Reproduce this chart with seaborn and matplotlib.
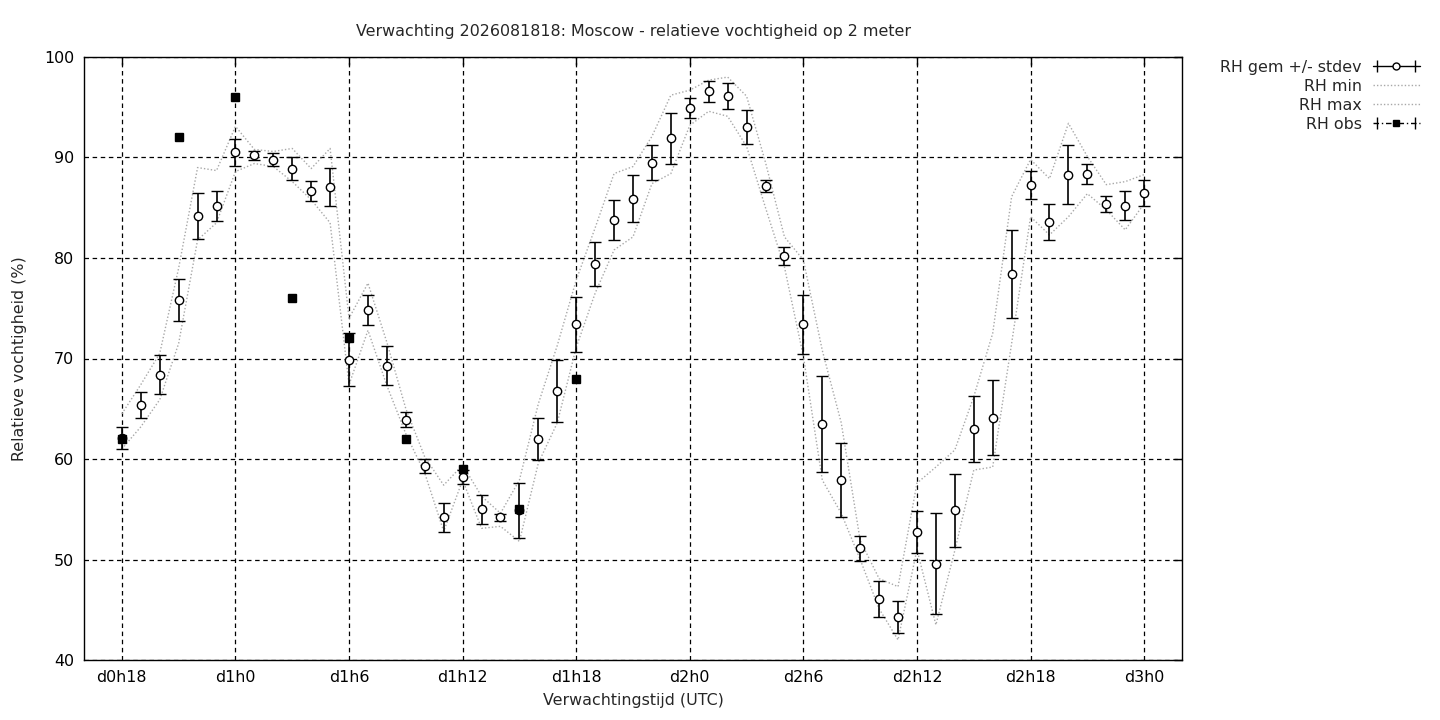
import matplotlib
matplotlib.use("Agg")
import matplotlib.pyplot as plt
from matplotlib.lines import Line2D
from matplotlib.legend_handler import HandlerLine2D, HandlerTuple
import seaborn as sns
import pandas as pd

# forecast hours since d0h0
hours = list(range(18, 73))

rh_mean = [62.1, 65.4, 68.4, 75.8, 84.2, 85.2, 90.5, 90.2, 89.8, 88.9,
           86.7, 87.1, 69.9, 74.8, 69.3, 63.9, 59.3, 54.2, 58.2, 55.0,
           54.2, 54.9, 62.0, 66.8, 73.4, 79.4, 83.8, 85.9, 89.5, 91.9,
           94.9, 96.6, 96.1, 93.0, 87.2, 80.2, 73.4, 63.5, 57.9, 51.1,
           46.1, 44.3, 52.7, 49.6, 54.9, 63.0, 64.1, 78.4, 87.3, 83.6,
           88.3, 88.4, 85.4, 85.2, 86.5]
rh_std = [1.1, 1.3, 1.9, 2.1, 2.3, 1.5, 1.35, 0.4, 0.6, 1.15,
          1.0, 1.9, 2.65, 1.5, 1.9, 0.75, 0.7, 1.45, 0.7, 1.45,
          0.35, 2.75, 2.05, 3.1, 2.75, 2.2, 2.0, 2.35, 1.75, 2.55,
          1.0, 1.05, 1.3, 1.7, 0.6, 0.85, 2.95, 4.75, 3.65, 1.2,
          1.8, 1.6, 2.1, 5.0, 3.65, 3.25, 3.75, 4.4, 1.4, 1.8,
          2.95, 1.0, 0.8, 1.45, 1.3]
rh_min = [61.0, 63.2, 65.9, 71.5, 81.8, 83.5, 88.6, 89.4, 89.1, 87.6,
          85.8, 83.5, 67.4, 72.8, 67.3, 62.5, 58.6, 52.8, 57.9, 53.1,
          53.3, 51.8, 59.6, 63.6, 71.1, 76.5, 80.8, 82.1, 87.4, 88.4,
          93.2, 94.6, 94.1, 91.1, 85.0, 79.1, 70.2, 57.9, 54.6, 50.0,
          45.1, 42.0, 51.0, 43.5, 50.9, 58.9, 59.2, 71.5, 84.1, 82.3,
          84.1, 86.4, 84.8, 82.8, 85.4]
rh_max = [64.5, 67.4, 70.5, 79.0, 89.0, 88.7, 93.1, 90.8, 90.6, 90.9,
          88.9, 90.9, 74.0, 77.5, 71.6, 65.0, 60.2, 57.4, 59.4, 56.3,
          54.6, 57.9, 65.5, 71.3, 77.8, 83.0, 88.4, 89.1, 92.1, 96.2,
          96.7, 97.7, 98.0, 96.1, 89.5, 82.1, 79.8, 70.8, 63.6, 51.9,
          48.1, 47.3, 57.6, 59.2, 60.9, 66.2, 72.5, 86.1, 89.8, 87.9,
          93.4, 90.1, 87.3, 87.6, 88.3]

obs_hours = [18, 21, 24, 27, 30, 33, 36, 39, 42]
rh_obs = [62, 92, 96, 76, 72, 62, 59, 55, 68]

tick_hours = [18, 24, 30, 36, 42, 48, 54, 60, 66, 72]
tick_labels = ["d0h18", "d1h0", "d1h6", "d1h12", "d1h18",
               "d2h0", "d2h6", "d2h12", "d2h18", "d3h0"]

df = pd.DataFrame({"uur": hours, "gem": rh_mean, "std": rh_std,
                   "min": rh_min, "max": rh_max})

sns.set_style("white")
plt.rcParams["font.family"] = ["DejaVu Sans"]
fs = 11.4

fig = plt.figure(figsize=(14.4, 7.2), dpi=100)
ax = fig.add_axes([84 / 1440, 60 / 720, 1098 / 1440, 603 / 720])

grey = "#a8a8a8"
sns.lineplot(data=df, x="uur", y="min", ax=ax, color=grey, lw=1,
             linestyle=(0, (1, 1.5)), zorder=2)
sns.lineplot(data=df, x="uur", y="max", ax=ax, color=grey, lw=1,
             linestyle=(0, (1, 1.5)), zorder=2)

ax.errorbar(df["uur"], df["gem"], yerr=df["std"], fmt="o", color="black",
            mfc="white", mec="black", ms=6, mew=1, elinewidth=1.2,
            capsize=4.5, capthick=1.2, zorder=4)
ax.errorbar(obs_hours, rh_obs, yerr=[0] * len(rh_obs), fmt="s", color="black",
            ms=6, capsize=3, capthick=1, zorder=5)

ax.set_xlim(16, 74)
ax.set_ylim(40, 100)
ax.set_xticks(tick_hours)
ax.set_xticklabels(tick_labels)
ax.set_yticks(range(40, 101, 10))
ax.tick_params(direction="in", length=6, width=1, top=True, right=True,
               labelsize=fs, colors="black", pad=7)
ax.grid(True, color="black", lw=0.9, linestyle=(0, (3.6, 2.9)))
for s in ax.spines.values():
    s.set_color("black")
    s.set_linewidth(1)

ax.set_xlabel("Verwachtingstijd (UTC)", fontsize=fs, labelpad=6)
ax.set_ylabel("Relatieve vochtigheid (%)", fontsize=fs, labelpad=12)
ax.set_title("Verwachting 2026081818: Moscow - relatieve vochtigheid op 2 meter",
             fontsize=fs, pad=15)

# gnuplot style legend samples
mean_line = Line2D([], [], color="black", lw=1, marker="o", mfc="white",
                   mec="black", ms=5)
mean_caps = Line2D([], [], color="black", lw=0, marker="|", ms=9, mew=1)
min_line = Line2D([], [], color=grey, lw=1, linestyle=(0, (1, 1.5)))
max_line = Line2D([], [], color=grey, lw=1, linestyle=(0, (1, 1.5)))
obs_line = Line2D([], [], color="black", lw=1, linestyle=(0, (4, 2, 1, 2)),
                  marker="s", ms=5)
obs_caps = Line2D([], [], color="black", lw=0, marker="|", ms=9, mew=1)

fig.legend([(mean_line, mean_caps), min_line, max_line, (obs_line, obs_caps)],
           ["RH gem +/- stdev", "RH min", "RH max", "RH obs"],
           handler_map={mean_caps: HandlerLine2D(numpoints=2),
                        obs_caps: HandlerLine2D(numpoints=2),
                        tuple: HandlerTuple(ndivide=1)},
           loc="upper right", bbox_to_anchor=(1428 / 1440, 1 - 52 / 720),
           frameon=False, markerfirst=False, handlelength=3.0,
           handletextpad=0.7, labelspacing=0.25, borderpad=0, fontsize=fs)

fig.savefig("out.png", dpi=100)
